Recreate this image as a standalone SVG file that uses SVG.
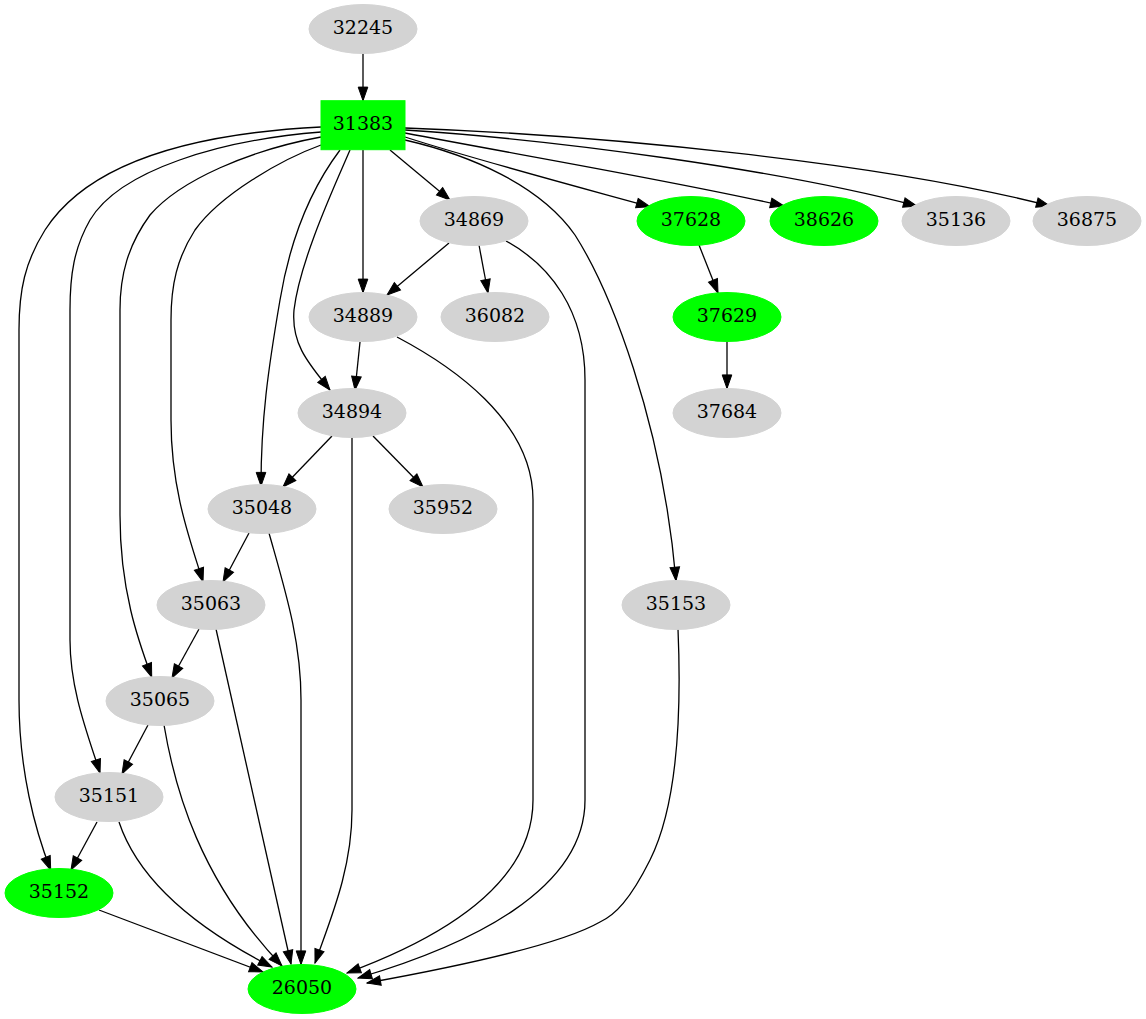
<svg xmlns="http://www.w3.org/2000/svg" width="1146" height="1019" viewBox="0 0 1146 1019">
<defs>
<style>
.gray{fill:#d3d3d3;stroke:#d3d3d3}
.green{fill:#00ff00;stroke:#00ff00}
text{font-family:"DejaVu Serif","Liberation Serif",serif;font-size:19px;text-anchor:middle;fill:#000}
.edge{fill:none;stroke:#000;stroke-width:1.3;marker-end:url(#arr)}
</style>
<marker id="arr" markerUnits="userSpaceOnUse" markerWidth="16" markerHeight="12" viewBox="0 -6 14 12" refX="13.6" refY="0" orient="auto">
<path d="M0,-4.8 L13.6,0 L0,4.8 z" fill="#000" stroke="#000" stroke-width="1"/>
</marker>
</defs>
<rect width="1146" height="1019" fill="#fff"/>
<g id="edges">
<path class="edge" d="M363,53.5 L363,100.7"/>
<path class="edge" d="M321,127 C200,133 90,160 45,230 C25,262 19,290 19,330 L19,700 C19,770 35,830 50.7,870"/>
<path class="edge" d="M321,132 C220,140 120,170 90,220 C74,248 70,275 70,310 L70,640 C70,690 88,735 100,773"/>
<path class="edge" d="M321,137 C250,150 180,180 150,215 C128,245 120,275 120,310 L120,515 C120,590 138,640 151.7,677"/>
<path class="edge" d="M321,145 C280,160 220,195 195,230 C177,258 171,285 171,320 L171,420 C171,490 190,540 203,581.7"/>
<path class="edge" d="M340,150 C310,190 290,240 280,300 C268,370 261,420 261,486"/>
<path class="edge" d="M350,150 C335,185 300,260 294,310 C291,345 310,365 330,390"/>
<path class="edge" d="M363,150 L363,292.7"/>
<path class="edge" d="M390,150 L450,200"/>
<path class="edge" d="M405,140 C470,155 540,185 575,235 C610,290 662,420 676,580.7"/>
<path class="edge" d="M405,137 C470,158 560,182 650,206.7"/>
<path class="edge" d="M405,133 C520,155 680,182 784,206"/>
<path class="edge" d="M405,130 C560,140 780,170 917,206"/>
<path class="edge" d="M405,128 C600,135 880,162 1050,206"/>
<path class="edge" d="M449,243 L387,295"/>
<path class="edge" d="M479,245 L488,293"/>
<path class="edge" d="M506,241 C550,265 585,310 585,380 L585,800 C585,890 470,945 358,978"/>
<path class="edge" d="M360,342 L355,390"/>
<path class="edge" d="M397,337 C450,365 533,420 533,500 L533,800 C533,880 450,935 347,973"/>
<path class="edge" d="M699,245 L718,293"/>
<path class="edge" d="M727,341.5 L727,388.5"/>
<path class="edge" d="M332,436 L283,487"/>
<path class="edge" d="M373,436 L423,487"/>
<path class="edge" d="M352,437.5 L352,810 C352,870 330,920 315,963"/>
<path class="edge" d="M249,533 L223,582"/>
<path class="edge" d="M269,533 C285,590 301,640 301,700 L301,964.5"/>
<path class="edge" d="M199,629 L172,678"/>
<path class="edge" d="M216,629 L291,964"/>
<path class="edge" d="M148,725 L122,774"/>
<path class="edge" d="M164,725 C175,790 200,880 282,966"/>
<path class="edge" d="M97,822 L71,870"/>
<path class="edge" d="M119,822 C135,870 180,920 272,967"/>
<path class="edge" d="M99,910 L263,972"/>
<path class="edge" d="M678,629 C681,700 680,800 650,860 C630,900 615,915 600,922 C560,945 450,968 367,983"/>
</g>
<g id="n32245"><ellipse class="gray" cx="363" cy="29" rx="54" ry="24.5"/><text x="363" y="34.3">32245</text></g>
<g id="n31383"><rect class="green" x="321" y="100.7" width="84" height="49"/><text x="363" y="130.3">31383</text></g>
<g id="n34869"><ellipse class="gray" cx="474" cy="221" rx="54" ry="24.5"/><text x="474" y="226.3">34869</text></g>
<g id="n37628"><ellipse class="green" cx="691" cy="221" rx="54" ry="24.5"/><text x="691" y="226.3">37628</text></g>
<g id="n38626"><ellipse class="green" cx="824" cy="221" rx="54" ry="24.5"/><text x="824" y="226.3">38626</text></g>
<g id="n35136"><ellipse class="gray" cx="956" cy="221" rx="54" ry="24.5"/><text x="956" y="226.3">35136</text></g>
<g id="n36875"><ellipse class="gray" cx="1087" cy="221" rx="54" ry="24.5"/><text x="1087" y="226.3">36875</text></g>
<g id="n34889"><ellipse class="gray" cx="363" cy="317" rx="54" ry="24.5"/><text x="363" y="322.3">34889</text></g>
<g id="n36082"><ellipse class="gray" cx="495" cy="317" rx="54" ry="24.5"/><text x="495" y="322.3">36082</text></g>
<g id="n37629"><ellipse class="green" cx="727" cy="317" rx="54" ry="24.5"/><text x="727" y="322.3">37629</text></g>
<g id="n34894"><ellipse class="gray" cx="352" cy="413" rx="54" ry="24.5"/><text x="352" y="418.3">34894</text></g>
<g id="n37684"><ellipse class="gray" cx="727" cy="413" rx="54" ry="24.5"/><text x="727" y="418.3">37684</text></g>
<g id="n35048"><ellipse class="gray" cx="262" cy="509" rx="54" ry="24.5"/><text x="262" y="514.3">35048</text></g>
<g id="n35952"><ellipse class="gray" cx="443" cy="509" rx="54" ry="24.5"/><text x="443" y="514.3">35952</text></g>
<g id="n35063"><ellipse class="gray" cx="211" cy="605" rx="54" ry="24.5"/><text x="211" y="610.3">35063</text></g>
<g id="n35153"><ellipse class="gray" cx="676" cy="605" rx="54" ry="24.5"/><text x="676" y="610.3">35153</text></g>
<g id="n35065"><ellipse class="gray" cx="160" cy="701" rx="54" ry="24.5"/><text x="160" y="706.3">35065</text></g>
<g id="n35151"><ellipse class="gray" cx="109" cy="797" rx="54" ry="24.5"/><text x="109" y="802.3">35151</text></g>
<g id="n35152"><ellipse class="green" cx="59" cy="893" rx="54" ry="24.5"/><text x="59" y="898.3">35152</text></g>
<g id="n26050"><ellipse class="green" cx="302" cy="989" rx="54" ry="24.5"/><text x="302" y="994.3">26050</text></g>
</svg>
